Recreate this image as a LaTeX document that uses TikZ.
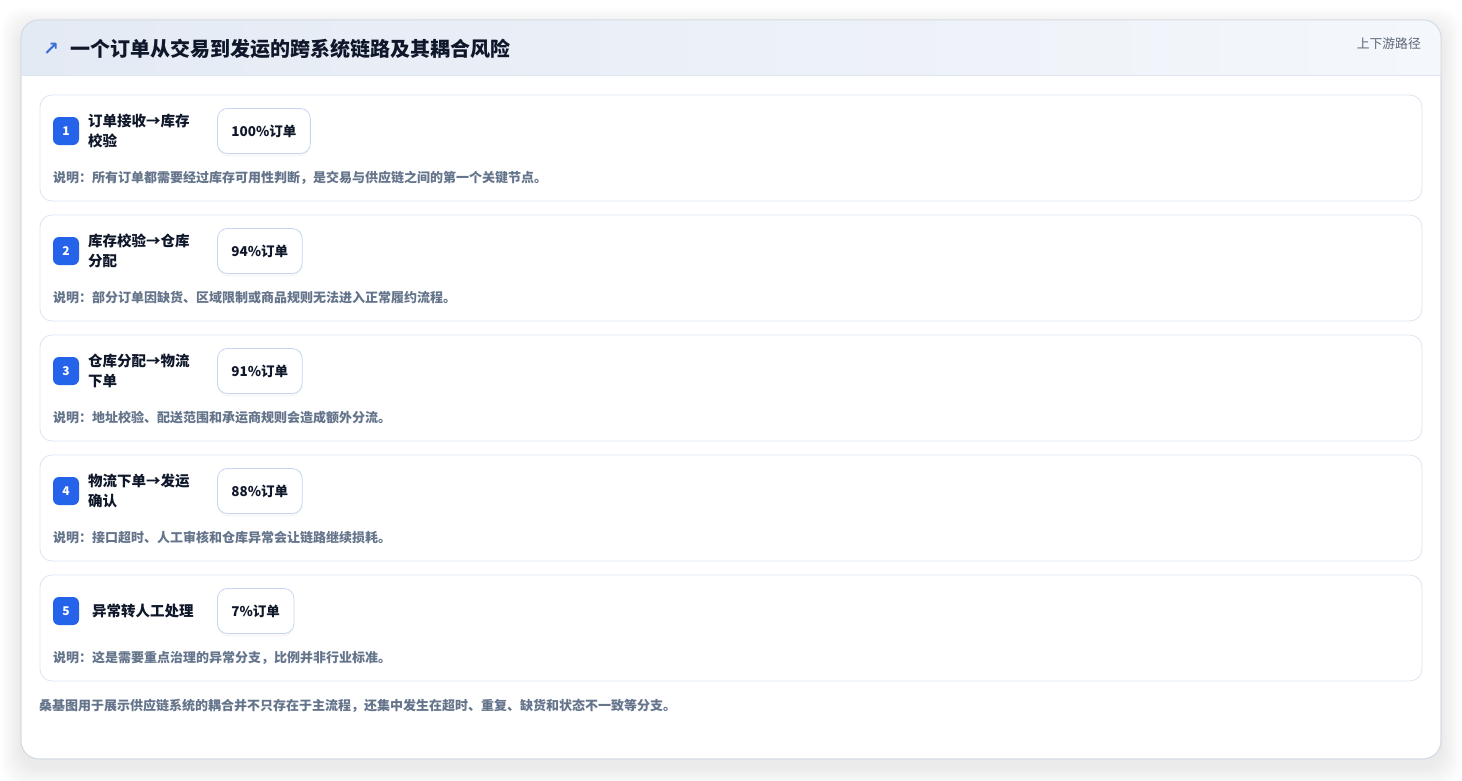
\documentclass[tikz,border=0pt]{standalone}
\usepackage{fontspec}
\setmainfont{Noto Sans CJK SC}
\newfontfamily\symfont{DejaVu Sans}
\usetikzlibrary{positioning,shadows}
\definecolor{ink}{HTML}{0F172A}
\definecolor{muted}{HTML}{64748B}
\definecolor{tagtext}{HTML}{5B6678}
\definecolor{frameline}{HTML}{D3DAE4}
\definecolor{edge}{HTML}{DCE5F2}
\definecolor{pilledge}{HTML}{C6D6EE}
\definecolor{accent}{HTML}{2563EB}
\definecolor{arrowblue}{HTML}{3B6FD6}
\definecolor{headL}{HTML}{E4EAF4}
\definecolor{headR}{HTML}{F4F7FB}
\tikzset{
  panel/.style={draw=edge, line width=0.8pt, fill=white, rounded corners=12pt, minimum width=1382pt, minimum height=106pt, inner sep=0pt},
  badge/.style={fill=accent, rounded corners=6pt, minimum width=26pt, minimum height=28pt, inner sep=0pt, text=white, font=\bfseries\fontsize{12}{12}\selectfont},
  steplab/.style={text=ink, font=\bfseries\fontsize{14.5}{20}\selectfont, align=left, anchor=west, inner sep=0pt},
  pill/.style={draw=pilledge, line width=0.8pt, fill=white, rounded corners=10pt, minimum height=45pt, inner xsep=14pt, font=\bfseries\fontsize{13.5}{14}\selectfont, text=ink,
    drop shadow={opacity=0.05, shadow xshift=0pt, shadow yshift=-3pt}},
  note/.style={text=muted, font=\bfseries\fontsize{13}{13}\selectfont, anchor=west, inner sep=0pt},
}
\begin{document}
\begin{tikzpicture}[x=1pt, y=-1pt]
  \useasboundingbox (0,0) rectangle (1462,780);
  \fill[white] (0,0) rectangle (1462,780);
  % soft shadow round the frame
  \foreach \k in {2,4,...,20}
    \fill[black, opacity=0.008, rounded corners=22pt] (21-\k,28-\k) rectangle (1441+\k,767+\k);
  \node[draw=frameline, line width=0.8pt, fill=white, rounded corners=18pt, minimum width=1420pt, minimum height=739pt, inner sep=0pt] (frame) at (731,389.5) {};
  \begin{scope}
    \clip[rounded corners=18pt] (21,20) rectangle (1441,759);
    \shade[left color=headL, right color=headR] (21,20) rectangle (1441,75);
  \end{scope}
  \draw[edge, line width=0.8pt] (21,75) -- (1441,75);
  \draw[frameline, line width=0.8pt, rounded corners=18pt] (21,20) rectangle (1441,759);
  \node[text=arrowblue, font=\symfont\bfseries\fontsize{19}{19}\selectfont, inner sep=0pt] (icon) at (51,49) {↗};
  \node[text=ink, font=\bfseries\fontsize{20}{20}\selectfont, anchor=west, inner sep=0pt] (title) at (70,49) {一个订单从交易到发运的跨系统链路及其耦合风险};
  \node[text=tagtext, font=\fontsize{12.8}{13}\selectfont, anchor=east, inner sep=0pt] (tag) at (1421,44) {上下游路径};
  % the five steps
  \foreach \i/\lx/\la/\pc/\desc in {
    1/88/{订单接收→库存\\校验}/100\%订单/说明：所有订单都需要经过库存可用性判断，是交易与供应链之间的第一个关键节点。,
    2/88/{库存校验→仓库\\分配}/94\%订单/说明：部分订单因缺货、区域限制或商品规则无法进入正常履约流程。,
    3/88/{仓库分配→物流\\下单}/91\%订单/说明：地址校验、配送范围和承运商规则会造成额外分流。,
    4/88/{物流下单→发运\\确认}/88\%订单/说明：接口超时、人工审核和仓库异常会让链路继续损耗。,
    5/92/{异常转人工处理}/7\%订单/说明：这是需要重点治理的异常分支，比例并非行业标准。}
  {
    \pgfmathsetmacro{\top}{95+120*(\i-1)}
    \node[panel] (card\i) at (731,\top+53) {};
    \node[badge] (badge\i) at (66,\top+36) {\i};
    \node[steplab] (lab\i) at (\lx,\top+36) {\la};
    \node[pill, anchor=west] (pill\i) at (217,\top+36) {\pc};
    \node[note] (note\i) at (53,\top+83) {\desc};
  }
  \node[text=muted, font=\bfseries\fontsize{13}{13}\selectfont, anchor=west, inner sep=0pt] (footer) at (39,706) {桑基图用于展示供应链系统的耦合并不只存在于主流程，还集中发生在超时、重复、缺货和状态不一致等分支。};
\end{tikzpicture}
\end{document}
